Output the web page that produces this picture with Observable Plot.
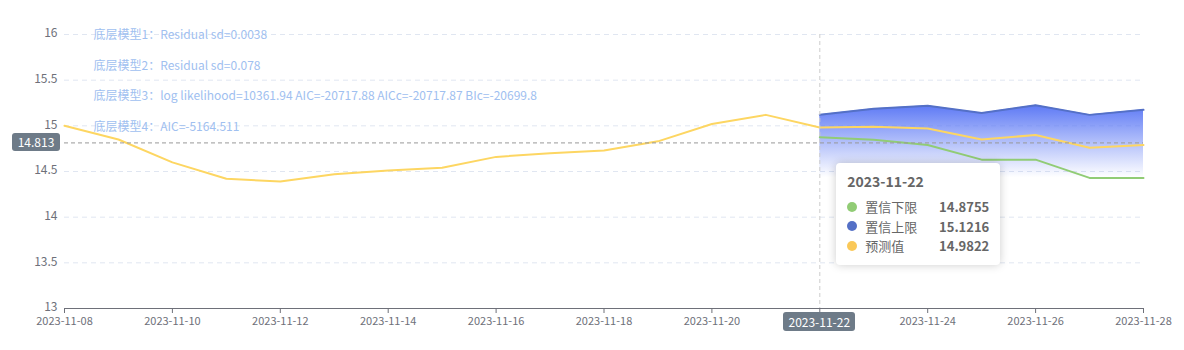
<!DOCTYPE html>
<html><head><meta charset="utf-8">
<script src="https://cdn.jsdelivr.net/npm/d3@7"></script>
<script src="https://cdn.jsdelivr.net/npm/@observablehq/plot@0.6"></script>
<style>
body{margin:0;background:#fff;font-family:"Noto Sans CJK SC","Noto Sans",sans-serif;}
#wrap{position:relative;width:1184px;height:350px;}
.tag{position:absolute;background:#6e7b88;color:#fff;font-size:12px;border-radius:3px;text-align:center;line-height:19px;}
#tip{position:absolute;background:#fff;border-radius:4px;box-shadow:0 0 10px rgba(0,0,0,0.2);color:#666;font-size:13px;padding:8px 11px;box-sizing:border-box;}
#tip .t{font-weight:bold;font-size:14px;margin-bottom:6px;}
#tip .r{display:flex;align-items:center;height:19.5px;}
#tip .d{width:10px;height:10px;border-radius:5px;margin-right:8px;}
#tip .v{margin-left:auto;font-weight:bold;padding-left:20px;}
</style></head>
<body><div id="wrap"></div>
<script>
const dates = ["2023-11-08","2023-11-09","2023-11-10","2023-11-11","2023-11-12","2023-11-13","2023-11-14","2023-11-15","2023-11-16","2023-11-17","2023-11-18","2023-11-19","2023-11-20","2023-11-21","2023-11-22","2023-11-23","2023-11-24","2023-11-25","2023-11-26","2023-11-27","2023-11-28"];
const forecast = [15.0,14.85,14.6,14.42,14.39,14.47,14.51,14.54,14.66,14.70,14.73,14.83,15.02,15.12,14.9822,14.99,14.97,14.85,14.90,14.76,14.79];
const bandDates = ["2023-11-22","2023-11-23","2023-11-24","2023-11-25","2023-11-26","2023-11-27","2023-11-28"];
const upper = [15.1216,15.186,15.22,15.14,15.225,15.12,15.175];
const lower = [14.8755,14.847,14.79,14.63,14.63,14.43,14.43];
const notes = ["底层模型1：Residual sd=0.0038","底层模型2：Residual sd=0.078","底层模型3：log likelihood=10361.94 AIC=-20717.88 AICc=-20717.87 BIc=-20699.8","底层模型4：AIC=-5164.511"];
const yTicks = [13,13.5,14,14.5,15,15.5,16];
const xTickDates = ["2023-11-08","2023-11-10","2023-11-12","2023-11-14","2023-11-16","2023-11-18","2023-11-20","2023-11-22","2023-11-24","2023-11-26","2023-11-28"];
const pointerDate = "2023-11-22";
const pointerY = 14.813;
const tipRows = [["置信下限","14.8755","#91cc75"],["置信上限","15.1216","#5470c6"],["预测值","14.9822","#fac858"]];

const P = d3.utcParse("%Y-%m-%d");
const main = dates.map((d,i)=>({date:P(d),v:forecast[i]}));
const band = bandDates.map((d,i)=>({date:P(d),hi:upper[i],lo:lower[i]}));
const minLo = d3.min(lower);
const fmt = d3.utcFormat("%Y-%m-%d");

const plot = Plot.plot({
  width:1184,height:350,
  marginLeft:64,marginRight:41,marginTop:34,marginBottom:42,
  style:{fontFamily:'"Noto Sans CJK SC","Noto Sans",sans-serif',fontSize:"11px",color:"#6e7079",background:"#fff"},
  x:{type:"utc",domain:[P(dates[0]),P(dates[dates.length-1])]},
  y:{domain:[13,16]},
  marks:[
    Plot.gridY(yTicks.filter(t=>t>13),{stroke:"#e0e6f1",strokeOpacity:1,strokeDasharray:"5,4"}),
    Plot.areaY(band,{x:"date",y1:minLo,y2:"hi",fill:"url(#bandGrad)",curve:"linear"}),
    Plot.line(band,{x:"date",y:"hi",stroke:"#5470c6",strokeWidth:2}),
    Plot.line(band,{x:"date",y:"lo",stroke:"#91cc75",strokeWidth:2}),
    Plot.line(main,{x:"date",y:"v",stroke:"#fdd662",strokeWidth:2}),
    Plot.ruleX([P(pointerDate)],{stroke:"#ccc",strokeDasharray:"4,3"}),
    Plot.ruleY([pointerY],{stroke:"#999",strokeDasharray:"4,3"}),
    Plot.ruleY([13],{stroke:"#6e7079"}),
    Plot.axisY(yTicks,{tickSize:0,tickPadding:7,fill:"#6e7079",fontSize:12,dy:-1,tickFormat:d=>String(d)}),
    Plot.axisX(xTickDates.map(P),{tickSize:5,stroke:"#6e7079",fill:"#6e7079",fontSize:11,tickPadding:4,
      tickFormat:d=>fmt(d)===pointerDate?"":fmt(d)}),
    ...notes.map((n,i)=>Plot.text([n],{frameAnchor:"top-left",lineAnchor:"middle",text:d=>d,dx:29,dy:1+i*30.5,fill:"#a0c0f0",fontSize:12}))
  ]
});
const svg = d3.select(plot);
const defs = svg.insert("defs",":first-child");
const g = defs.append("linearGradient").attr("id","bandGrad").attr("x1",0).attr("y1",0).attr("x2",0).attr("y2",1);
g.append("stop").attr("offset","0%").attr("stop-color","#5d79f5").attr("stop-opacity",1);
g.append("stop").attr("offset","100%").attr("stop-color","#6580f5").attr("stop-opacity",0.0);

const wrap = document.getElementById("wrap");
wrap.appendChild(plot);
const xs = plot.scale("x"), ys = plot.scale("y");
const px = xs.apply(P(pointerDate)), py = ys.apply(pointerY);

const xl = document.createElement("div");
xl.className="tag"; xl.textContent=pointerDate;
xl.style.left=(px-36)+"px"; xl.style.top="312px"; xl.style.width="72px";
wrap.appendChild(xl);

const yl = document.createElement("div");
yl.className="tag"; yl.textContent=String(pointerY);
yl.style.left="12px"; yl.style.top=(py-9)+"px"; yl.style.width="48px"; yl.style.lineHeight="18px";
wrap.appendChild(yl);

const tip = document.createElement("div");
tip.id="tip";
tip.style.left=(px+17)+"px"; tip.style.top="163px"; tip.style.width="164px"; tip.style.height="102px";
let h = `<div class="t">${pointerDate}</div>`;
for(const [n,v,c] of tipRows) h+=`<div class="r"><span class="d" style="background:${c}"></span><span>${n}</span><span class="v">${v}</span></div>`;
tip.innerHTML=h;
wrap.appendChild(tip);
</script></body></html>
